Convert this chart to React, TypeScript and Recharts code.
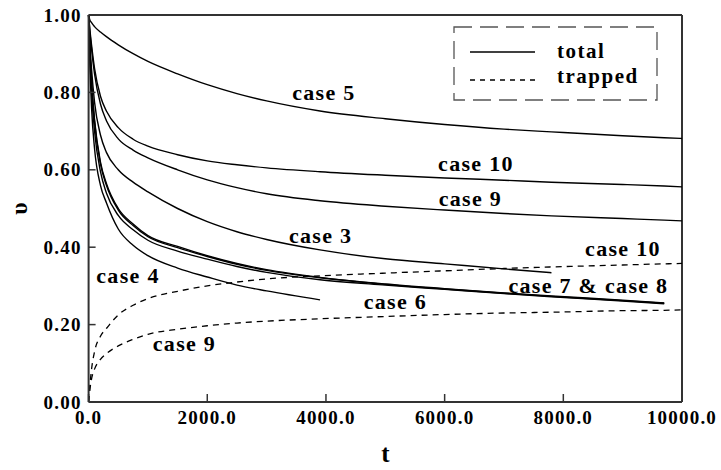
import React from "react";
import { Legend, Line, LineChart, ReferenceDot, ReferenceLine, XAxis, YAxis } from "recharts";

const FONT = "'Liberation Serif', 'Times New Roman', serif";
const INK = "#000";
const AXIS = "#333";

// time grid shared by all curves
const tGrid = [0, 20, 50, 100, 200, 300, 500, 750, 1000, 1500, 2000, 2500, 3000, 3900, 5000, 6000, 7000, 7800, 9000, 9700, 10000];

// total (solid)
const case5Total = [1, 0.988, 0.98, 0.97, 0.956, 0.944, 0.923, 0.9, 0.88, 0.848, 0.82, 0.797, 0.778, 0.752, 0.732, 0.717, 0.705, 0.698, 0.688, 0.683, 0.681];
const case10Total = [1, 0.965, 0.922, 0.862, 0.79, 0.752, 0.709, 0.679, 0.661, 0.639, 0.623, 0.613, 0.605, 0.595, 0.586, 0.579, 0.573, 0.568, 0.562, 0.558, 0.556];
const case9Total = [1, 0.96, 0.912, 0.848, 0.77, 0.727, 0.68, 0.651, 0.631, 0.6, 0.574, 0.554, 0.538, 0.52, 0.506, 0.496, 0.487, 0.481, 0.474, 0.47, 0.468];
const case3Total = [1, 0.93, 0.86, 0.775, 0.69, 0.645, 0.6, 0.568, 0.543, 0.5, 0.466, 0.44, 0.42, 0.393, 0.37, 0.357, 0.344, 0.334, null, null, null];
const case7Total = [1, 0.92, 0.83, 0.73, 0.62, 0.565, 0.5, 0.46, 0.43, 0.402, 0.378, 0.358, 0.342, 0.322, 0.305, 0.293, 0.282, 0.274, 0.263, 0.256, null];
const case8Total = [1, 0.915, 0.825, 0.725, 0.615, 0.56, 0.496, 0.456, 0.427, 0.399, 0.376, 0.356, 0.34, 0.321, 0.304, 0.292, 0.281, 0.273, 0.262, 0.255, null];
const case4Total = [1, 0.9, 0.8, 0.7, 0.595, 0.54, 0.482, 0.445, 0.418, 0.39, 0.369, 0.35, 0.335, 0.316, 0.302, 0.291, 0.28, 0.272, 0.261, 0.254, null];
const case6Total = [1, 0.88, 0.76, 0.655, 0.56, 0.515, 0.447, 0.405, 0.378, 0.346, 0.323, 0.302, 0.287, 0.264, null, null, null, null, null, null, null];

// trapped (dashed)
const case10Trapped = [0, 0.04, 0.085, 0.13, 0.17, 0.19, 0.225, 0.25, 0.267, 0.286, 0.3, 0.31, 0.318, 0.326, 0.333, 0.339, 0.345, 0.349, 0.354, 0.357, 0.358];
const case9Trapped = [0, 0.03, 0.06, 0.085, 0.11, 0.125, 0.145, 0.162, 0.175, 0.188, 0.197, 0.204, 0.209, 0.215, 0.221, 0.226, 0.23, 0.232, 0.236, 0.237, 0.238];

const xTicks = [0, 2000, 4000, 6000, 8000, 10000];
const yTicks = [0, 0.2, 0.4, 0.6, 0.8, 1];

// curve labels: text, t, v
const labelTexts = ["case 5", "case 10", "case 9", "case 3", "case 10", "case 7 & case 8", "case 6", "case 4", "case 9"];
const labelT = [3966, 6528, 6435, 3910, 9005, 8423, 5171, 664, 1616];
const labelV = [0.801, 0.618, 0.527, 0.432, 0.398, 0.302, 0.261, 0.328, 0.152];

const solidKeys = ["case5", "case10", "case9", "case3", "case7", "case8", "case4", "case6"];
const solidSeries = [case5Total, case10Total, case9Total, case3Total, case7Total, case8Total, case4Total, case6Total];
const dashedKeys = ["case10t", "case9t"];
const dashedSeries = [case10Trapped, case9Trapped];

const rows = tGrid.map((t, i) => {
  const row: Record<string, number | null> = { t };
  solidKeys.forEach((k, j) => (row[k] = solidSeries[j][i]));
  dashedKeys.forEach((k, j) => (row[k] = dashedSeries[j][i]));
  return row;
});

const textStyle = { fontFamily: FONT, fontWeight: 700, fill: INK };

function XTick({ x, y, payload }: any) {
  return (
    <g>
      <line x1={x} x2={x} y1={y} y2={y - 8} stroke={AXIS} strokeWidth={1.5} />
      <text x={x} y={y + 22} textAnchor="middle" fontSize={19} letterSpacing={1.2} {...textStyle}>
        {payload.value.toFixed(1)}
      </text>
    </g>
  );
}

function YTick({ x, y, payload }: any) {
  return (
    <g>
      <line x1={x} x2={x + 7} y1={y} y2={y} stroke={AXIS} strokeWidth={1.5} />
      <text x={x - 7} y={y + 6.5} textAnchor="end" fontSize={19} letterSpacing={1.2} {...textStyle}>
        {payload.value.toFixed(2)}
      </text>
    </g>
  );
}

function LegendBox() {
  return (
    <svg width={206} height={76} style={{ display: "block" }}>
      <rect x={1} y={1} width={203} height={73} fill="none" stroke="#555" strokeWidth={1.3} strokeDasharray="18 8" />
      <line x1={17} x2={82} y1={26} y2={26} stroke={INK} strokeWidth={1.4} />
      <line x1={17} x2={82} y1={54} y2={54} stroke={INK} strokeWidth={1.4} strokeDasharray="5 5" />
      <text x={104} y={32} fontSize={21} letterSpacing={1.5} {...textStyle}>total</text>
      <text x={104} y={57} fontSize={21} letterSpacing={1.5} {...textStyle}>trapped</text>
    </svg>
  );
}

function YTitle({ viewBox }: any) {
  const cy = viewBox.y + viewBox.height / 2;
  return (
    <text x={19} y={cy} transform={`rotate(-90 19 ${cy})`} textAnchor="middle" dominantBaseline="central"
      fontSize={24} {...textStyle}>
      υ
    </text>
  );
}

export default function App() {
  return (
    <div style={{ position: "absolute", left: 0, top: 0, background: "#fff" }}>
      <LineChart width={721} height={470} data={rows} margin={{ top: 15, right: 39, bottom: 28, left: 0 }}>
        <XAxis
          dataKey="t"
          type="number"
          domain={[0, 10000]}
          ticks={xTicks}
          height={40}
          tickSize={0}
          tickMargin={0}
          tickLine={false}
          tick={<XTick />}
          stroke={AXIS}
          strokeWidth={2}
          label={{ value: "t", position: "bottom", offset: 2, fontSize: 25, ...textStyle }}
        />
        <YAxis
          type="number"
          domain={[0, 1]}
          ticks={yTicks}
          width={88.6}
          tickSize={0}
          tickMargin={0}
          tickLine={false}
          tick={<YTick />}
          stroke={AXIS}
          strokeWidth={2}
          label={{ content: <YTitle /> }}
        />
        <ReferenceLine y={1} stroke={AXIS} strokeWidth={2} />
        <ReferenceLine x={10000} stroke={AXIS} strokeWidth={2} />
        {solidKeys.map((k) => (
          <Line key={k} dataKey={k} type="monotone" stroke={INK} strokeWidth={1.4} dot={false} isAnimationActive={false} />
        ))}
        {dashedKeys.map((k) => (
          <Line key={k} dataKey={k} type="monotone" stroke={INK} strokeWidth={1.3} strokeDasharray="6 5" dot={false} isAnimationActive={false} />
        ))}
        {labelTexts.map((s, i) => (
          <ReferenceDot
            key={i}
            x={labelT[i]}
            y={labelV[i]}
            r={0}
            stroke="none"
            fill="none"
            label={{ value: s, position: "center", fontSize: 22, letterSpacing: 1.3, ...textStyle }}
          />
        ))}
        <Legend
          layout="vertical"
          align="center"
          verticalAlign="middle"
          content={<LegendBox />}
          wrapperStyle={{ position: "absolute", left: 453, top: 26, width: 206, height: 76 }}
        />
      </LineChart>
    </div>
  );
}
